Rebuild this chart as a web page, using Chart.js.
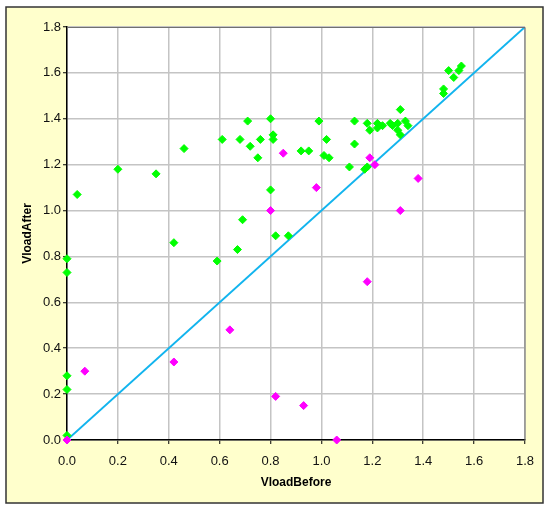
<!DOCTYPE html>
<html>
<head>
<meta charset="utf-8">
<script src="https://cdn.jsdelivr.net/npm/chart.js@4"></script>
<style>
html,body{margin:0;padding:0;background:#fff;}
canvas{display:block;}
</style>
</head>
<body>
<canvas id="c" width="550" height="515"></canvas>
<script>
// Data
const tickLabels = ['0.0','0.2','0.4','0.6','0.8','1.0','1.2','1.4','1.6','1.8'];
const greenBefore = [0.00,0.00,0.00,0.00,0.00,0.04,0.20,0.35,0.42,0.46,0.59,0.61,0.67,0.68,0.69,0.71,0.72,0.75,0.76,0.80,0.81,0.81,0.80,0.82,0.87,0.92,0.95,0.99,1.01,1.03,1.02,1.11,1.13,1.13,1.17,1.18,1.18,1.19,1.22,1.22,1.24,1.27,1.28,1.30,1.30,1.31,1.31,1.33,1.34,1.48,1.48,1.50,1.52,1.54,1.55];
const greenAfter  = [0.79,0.73,0.28,0.22,0.02,1.07,1.18,1.16,0.86,1.27,0.78,1.31,0.83,1.31,0.96,1.39,1.28,1.23,1.31,1.40,1.33,1.31,1.09,0.89,0.89,1.26,1.26,1.39,1.24,1.23,1.31,1.19,1.39,1.29,1.18,1.19,1.38,1.35,1.38,1.36,1.37,1.38,1.37,1.38,1.35,1.33,1.44,1.39,1.37,1.53,1.51,1.61,1.58,1.61,1.63];
const pinkBefore = [0.00,0.07,0.42,0.64,0.80,0.82,0.85,0.93,0.98,1.06,1.18,1.19,1.21,1.31,1.38];
const pinkAfter  = [0.00,0.30,0.34,0.48,1.00,0.19,1.25,0.15,1.10,0.00,0.69,1.23,1.20,1.00,1.14];
const diagBefore = [0, 1.8];
const diagAfter  = [0, 1.8];

const toPts = (xs, ys) => xs.map((x, i) => ({x: x, y: ys[i]}));

const frame = {
  id: 'frame',
  beforeDraw(chart) {
    const ctx = chart.ctx;
    ctx.save();
    ctx.fillStyle = '#FFFFCC';
    ctx.fillRect(6, 7, 537, 496);
    ctx.strokeStyle = '#333333';
    ctx.lineWidth = 1.5;
    ctx.strokeRect(6, 7, 537, 496);
    const a = chart.chartArea;
    ctx.fillStyle = '#FFFFFF';
    ctx.fillRect(a.left, a.top, a.right - a.left, a.bottom - a.top);
    ctx.restore();
  },
  afterDatasetsDraw(chart) {
    const ctx = chart.ctx, a = chart.chartArea;
    ctx.save();
    ctx.strokeStyle = '#707070';
    ctx.lineWidth = 1;
    ctx.beginPath();
    ctx.moveTo(a.left, a.top + 0.5);
    ctx.lineTo(a.right, a.top + 0.5);
    ctx.lineTo(a.right, a.bottom);
    ctx.stroke();
    ctx.restore();
  }
};

const font = {family: '"Liberation Sans", Arial, sans-serif', size: 13};
const titleFont = {family: '"Liberation Sans", Arial, sans-serif', size: 12, weight: 'bold'};

new Chart(document.getElementById('c'), {
  type: 'scatter',
  data: {
    datasets: [
      {
        label: 'Decreased',
        data: toPts(pinkBefore, pinkAfter),
        pointStyle: 'rectRot',
        pointRadius: 4,
        pointBackgroundColor: '#FF00FF',
        pointBorderColor: '#FF00FF',
        pointBorderWidth: 1,
        clip: false
      },
      {
        label: 'Increased',
        data: toPts(greenBefore, greenAfter),
        pointStyle: 'rectRot',
        pointRadius: 4,
        pointBackgroundColor: '#00FF00',
        pointBorderColor: '#00FF00',
        pointBorderWidth: 1,
        clip: false
      },
      {
        type: 'line',
        label: 'y = x',
        data: toPts(diagBefore, diagAfter),
        borderColor: '#12B4EE',
        borderWidth: 2,
        pointRadius: 0,
        fill: false,
        showLine: true
      }
    ]
  },
  options: {
    responsive: false,
    animation: false,
    devicePixelRatio: 1,
    layout: {padding: {left: 16, top: 27, right: 25, bottom: 21}},
    plugins: {legend: {display: false}, tooltip: {enabled: false}},
    scales: {
      x: {
        type: 'linear',
        min: 0, max: 1.8,
        afterFit(s) { s.height = 54; },
        ticks: {
          stepSize: 0.2,
          padding: 10,
          color: '#111',
          font: font,
          callback: (v) => tickLabels[Math.round(v / 0.2)]
        },
        grid: {color: '#C4C4C4', lineWidth: 1.5, tickLength: 4, tickColor: '#000', tickWidth: 1},
        border: {display: true, color: '#000', width: 1.5},
        title: {display: true, text: 'VloadBefore', color: '#000', font: titleFont, padding: {top: 4, bottom: 4}}
      },
      y: {
        type: 'linear',
        min: 0, max: 1.8,
        afterFit(s) { s.width = 51; },
        ticks: {
          stepSize: 0.2,
          padding: 2,
          color: '#111',
          font: font,
          callback: (v) => tickLabels[Math.round(v / 0.2)]
        },
        grid: {color: '#C4C4C4', lineWidth: 1.5, tickLength: 4, tickColor: '#000', tickWidth: 1},
        border: {display: true, color: '#000', width: 1.5},
        title: {display: true, text: 'VloadAfter', color: '#000', font: titleFont, padding: {top: 4, bottom: 4}}
      }
    }
  },
  plugins: [frame]
});
</script>
</body>
</html>
